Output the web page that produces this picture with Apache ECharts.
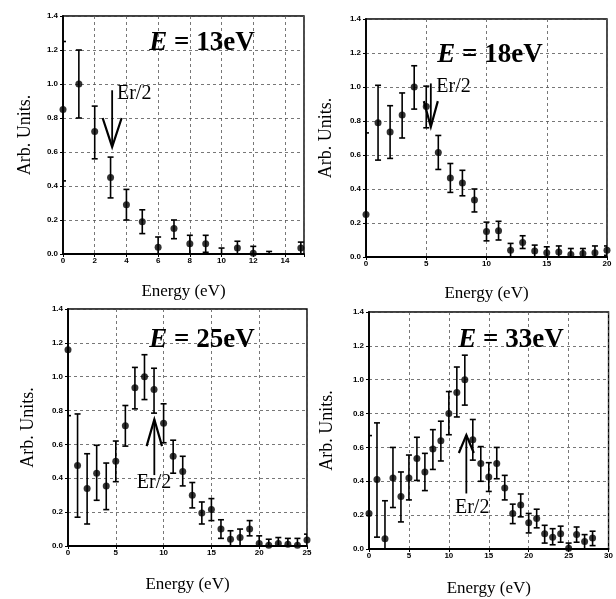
<!DOCTYPE html>
<html><head><meta charset="utf-8">
<script src="https://cdn.jsdelivr.net/npm/echarts@6/dist/echarts.min.js"></script>
<style>html,body{margin:0;padding:0;background:#fff}#c{width:616px;height:599px}</style>
</head><body><div id="c"></div><script>
// ---- data ----
const panelEnergies = ['13eV', '18eV', '25eV', '33eV'];
const xMax = [15.2, 20, 25, 30];
const xInterval = [2, 5, 5, 5];
const yTicks = [0, 0.2, 0.4, 0.6, 0.8, 1.0, 1.2, 1.4];

const e13_x  = [0, 1, 2, 3, 4, 5, 6, 7, 8, 9, 10, 11, 12, 13, 15];
const e13_y  = [0.85, 1.00, 0.72, 0.45, 0.29, 0.19, 0.04, 0.15, 0.06, 0.06, null, 0.035, 0.005, null, 0.035];
const e13_lo = [0.43, 0.80, 0.56, 0.33, 0.20, 0.12, 0.00, 0.09, 0.00, 0.01, 0.00, 0.00, 0.00, 0.00, 0.00];
const e13_hi = [1.25, 1.20, 0.87, 0.57, 0.38, 0.26, 0.10, 0.20, 0.11, 0.11, 0.035, 0.075, 0.045, 0.015, 0.07];

const e18_x  = [0, 1, 2, 3, 4, 5, 6, 7, 8, 9, 10, 11, 12, 13, 14, 15, 16, 17, 18, 19, 20];
const e18_y  = [0.25, 0.79, 0.735, 0.835, 1.00, 0.885, 0.615, 0.465, 0.435, 0.335, 0.15, 0.155, 0.04, 0.085, 0.035, 0.025, 0.03, 0.015, 0.02, 0.025, 0.04];
const e18_lo = [0.00, 0.57, 0.58, 0.70, 0.87, 0.76, 0.515, 0.38, 0.36, 0.265, 0.095, 0.10, 0.00, 0.05, 0.00, 0.00, 0.00, 0.00, 0.00, 0.00, 0.01];
const e18_hi = [0.73, 1.01, 0.89, 0.965, 1.125, 1.005, 0.715, 0.55, 0.51, 0.40, 0.205, 0.21, 0.08, 0.125, 0.07, 0.06, 0.065, 0.05, 0.05, 0.065, 0.065];

const e25_x  = [0, 1, 2, 3, 4, 5, 6, 7, 8, 9, 10, 11, 12, 13, 14, 15, 16, 17, 18, 19, 20, 21, 22, 23, 24, 25];
const e25_y  = [1.16, 0.475, 0.34, 0.43, 0.355, 0.50, 0.71, 0.935, 1.00, 0.925, 0.725, 0.53, 0.44, 0.30, 0.195, 0.215, 0.10, 0.04, 0.05, 0.10, 0.015, 0.005, 0.015, 0.01, 0.005, 0.035];
const e25_lo = [0.77, 0.17, 0.13, 0.27, 0.215, 0.38, 0.59, 0.81, 0.865, 0.785, 0.61, 0.43, 0.355, 0.225, 0.13, 0.15, 0.045, 0.00, 0.00, 0.06, 0.00, 0.00, 0.00, 0.00, 0.00, 0.00];
const e25_hi = [1.55, 0.78, 0.545, 0.595, 0.49, 0.62, 0.83, 1.055, 1.13, 1.05, 0.84, 0.625, 0.53, 0.375, 0.26, 0.28, 0.155, 0.09, 0.10, 0.15, 0.06, 0.04, 0.05, 0.045, 0.045, 0.07];

const e33_x  = [0, 1, 2, 3, 4, 5, 6, 7, 8, 9, 10, 11, 12, 13, 14, 15, 16, 17, 18, 19, 20, 21, 22, 23, 24, 25, 26, 27, 28];
const e33_y  = [0.21, 0.41, 0.06, 0.42, 0.31, 0.42, 0.535, 0.455, 0.59, 0.64, 0.80, 0.925, 1.00, 0.645, 0.505, 0.425, 0.505, 0.36, 0.21, 0.26, 0.155, 0.18, 0.09, 0.07, 0.09, 0.005, 0.085, 0.045, 0.065];
const e33_lo = [0.00, 0.07, 0.00, 0.245, 0.16, 0.29, 0.405, 0.345, 0.47, 0.52, 0.675, 0.78, 0.85, 0.525, 0.40, 0.34, 0.415, 0.29, 0.15, 0.19, 0.095, 0.125, 0.035, 0.025, 0.04, 0.00, 0.04, 0.00, 0.02];
const e33_hi = [0.67, 0.745, 0.285, 0.60, 0.455, 0.555, 0.66, 0.565, 0.705, 0.755, 0.93, 1.075, 1.145, 0.765, 0.605, 0.51, 0.60, 0.435, 0.265, 0.325, 0.21, 0.235, 0.14, 0.12, 0.135, 0.035, 0.13, 0.085, 0.105];

// Er/2 arrow annotations: [x, tail y, tip y, arm y, label x, label y]
const arrow13 = [3.1, 0.963, 0.63, 0.80, 4.49, 0.945];
const arrow18 = [5.38, 1.021, 0.766, 0.917, 7.26, 1.0];
const arrow25 = [9.03, 0.419, 0.748, 0.59, 9.0, 0.371];
const arrow33 = [12.19, 0.328, 0.673, 0.567, 12.92, 0.241];
const arrowLabel = 'Er/2';

const panels = [
  {x: e13_x, y: e13_y, lo: e13_lo, hi: e13_hi, arrow: arrow13},
  {x: e18_x, y: e18_y, lo: e18_lo, hi: e18_hi, arrow: arrow18},
  {x: e25_x, y: e25_y, lo: e25_lo, hi: e25_hi, arrow: arrow25},
  {x: e33_x, y: e33_y, lo: e33_lo, hi: e33_hi, arrow: arrow33}
];

// ---- layout / style ----
const gridBoxes = [
  {left: 63, top: 16, width: 241, height: 238},
  {left: 366, top: 19, width: 241, height: 238},
  {left: 68, top: 309, width: 239, height: 237},
  {left: 369, top: 312, width: 240, height: 237}
];
const yNameGap = [29, 31, 31, 33];
const xNameGap = [29, 28, 30, 31];
const armHalf = [9.5, 7, 7.7, 7.5];
const titlePos = [[202, 43], [490, 55], [202, 340], [511, 340]];
const SERIF = '"Liberation Serif", "DejaVu Serif", serif';
const SANS = '"Liberation Sans", Arial, sans-serif';
const gridLine = {show: true, lineStyle: {color: '#555', width: 0.8, type: [3, 3]}};

function errItem(params, api) {
  const x = api.value(0), lo = api.value(1), hi = api.value(2);
  const p1 = api.coord([x, lo]), p2 = api.coord([x, hi]);
  const w = 3;
  const st = {stroke: '#000', lineWidth: 1.6};
  return {type: 'group', children: [
    {type: 'line', shape: {x1: p1[0], y1: p1[1], x2: p2[0], y2: p2[1]}, style: st},
    {type: 'line', shape: {x1: p1[0] - w, y1: p1[1], x2: p1[0] + w, y2: p1[1]}, style: st},
    {type: 'line', shape: {x1: p2[0] - w, y1: p2[1], x2: p2[0] + w, y2: p2[1]}, style: st}
  ]};
}

function arrowItemFactory(hw) {
  return function (params, api) {
    const tail = api.coord([api.value(0), api.value(1)]);
    const tip = api.coord([api.value(0), api.value(2)]);
    const arm = api.coord([api.value(0), api.value(3)]);
    const lab = api.coord([api.value(4), api.value(5)]);
    const st = {stroke: '#000', lineWidth: 1.8};
    return {type: 'group', children: [
      {type: 'line', shape: {x1: tail[0], y1: tail[1], x2: tip[0], y2: tip[1]}, style: st},
      {type: 'polyline', shape: {points: [[arm[0] - hw, arm[1]], [tip[0], tip[1]], [arm[0] + hw, arm[1]]]}, style: {stroke: '#000', lineWidth: 2.2, fill: null}},
      {type: 'text', style: {text: arrowLabel, x: lab[0], y: lab[1], fill: '#000', font: '20px ' + SERIF, align: 'center', verticalAlign: 'middle'}}
    ]};
  };
}

const grid = [], xAxis = [], yAxis = [], series = [], graphic = [];
panels.forEach((p, i) => {
  grid.push(Object.assign({show: true, borderColor: '#000', borderWidth: 1.4, backgroundColor: 'transparent'}, gridBoxes[i]));
  xAxis.push({
    type: 'value', gridIndex: i, min: 0, max: xMax[i], interval: xInterval[i],
    name: 'Energy (eV)', nameLocation: 'middle', nameGap: xNameGap[i],
    nameTextStyle: {fontFamily: SERIF, fontSize: 17, color: '#000'},
    axisLine: {show: true, onZero: false, lineStyle: {color: '#000', width: 1.8}},
    axisTick: {show: true, length: 3, lineStyle: {color: '#000'}},
    axisLabel: {fontFamily: SANS, fontSize: 8, fontWeight: 'bold', color: '#000', margin: 3,
      formatter: v => (v > Math.floor(xMax[i]) ? '' : String(v))},
    splitLine: gridLine
  });
  yAxis.push({
    type: 'value', gridIndex: i, min: yTicks[0], max: yTicks[yTicks.length - 1], interval: 0.2,
    name: 'Arb. Units.', nameLocation: 'middle', nameGap: yNameGap[i],
    nameTextStyle: {fontFamily: SERIF, fontSize: 18, color: '#000'},
    axisLine: {show: true, lineStyle: {color: '#000', width: 1.8}},
    axisTick: {show: true, length: 3, lineStyle: {color: '#000'}},
    axisLabel: {fontFamily: SANS, fontSize: 8, fontWeight: 'bold', color: '#000', margin: 5,
      formatter: v => v.toFixed(1)},
    splitLine: gridLine
  });
  series.push({
    type: 'custom', xAxisIndex: i, yAxisIndex: i, clip: true, silent: true,
    renderItem: errItem, encode: {x: 0, y: [1, 2]},
    data: p.x.map((xv, k) => [xv, p.lo[k], p.hi[k]]), z: 3
  });
  series.push({
    type: 'scatter', xAxisIndex: i, yAxisIndex: i, symbol: 'circle', symbolSize: 7,
    itemStyle: {color: '#000'}, silent: true, z: 4,
    data: p.x.map((xv, k) => [xv, p.y[k]]).filter(d => d[1] !== null)
  });
  series.push({
    type: 'custom', xAxisIndex: i, yAxisIndex: i, silent: true, z: 5,
    renderItem: arrowItemFactory(armHalf[i]), encode: {x: 0, y: 1},
    data: [p.arrow]
  });
  graphic.push({
    type: 'text', x: titlePos[i][0], y: titlePos[i][1], z: 10,
    style: {
      text: '{i|E}{n| = ' + panelEnergies[i] + '}',
      align: 'center', verticalAlign: 'middle',
      rich: {
        i: {fontFamily: SERIF, fontSize: 27, fontWeight: 'bold', fontStyle: 'italic', fill: '#000'},
        n: {fontFamily: SERIF, fontSize: 27, fontWeight: 'bold', fill: '#000'}
      }
    }
  });
});

const chart = echarts.init(document.getElementById('c'), null, {renderer: 'canvas'});
chart.setOption({backgroundColor: '#fff', animation: false, grid, xAxis, yAxis, series, graphic});
</script></body></html>
